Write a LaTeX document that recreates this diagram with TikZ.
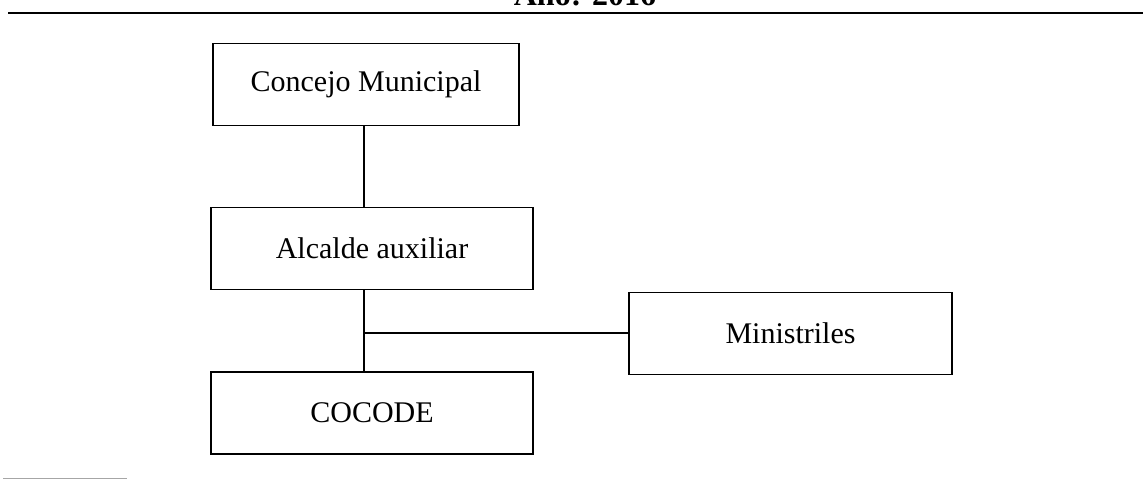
\documentclass[tikz,border=0pt]{standalone}
\usepackage{fontspec}
\setmainfont{Liberation Serif}
\begin{document}
\begin{tikzpicture}[x=1pt,y=1pt,
   orgbox/.style={draw,line width=1.3pt,minimum height=82pt,inner sep=0pt,
     font=\fontsize{30}{36}\selectfont},
   link/.style={line width=1.3pt}]
   \useasboundingbox (0,0) rectangle (1143,-481);
   % title, cut by the page edge
   \node[anchor=base,font=\fontsize{32}{38}\selectfont\bfseries] (title) at (585,-6) {Año: 2016};
   \draw[line width=2.5pt] (8,-13) -- (1143,-13);
   % boxes
   \node[orgbox,minimum width=306pt] (conc) at (366,-84.5) {Concejo Municipal};
   \node[orgbox,minimum width=322pt] (alc) at (372,-248.5) {Alcalde auxiliar};
   \node[orgbox,minimum width=322pt] (cocode) at (372,-413) {COCODE};
   \node[orgbox,minimum width=323pt] (min) at (790.5,-333.5) {Ministriles};
   % connectors
   \coordinate (j) at (364,-333);
   \draw[link] (conc.south -| j) -- (alc.north -| j);
   \draw[link] (alc.south -| j) -- (cocode.north -| j);
   \draw[link] (j) -- (min.west |- j);
   % footnote rule
   \draw[gray!70,line width=1pt] (3,-478) -- (127,-478);
\end{tikzpicture}
\end{document}
